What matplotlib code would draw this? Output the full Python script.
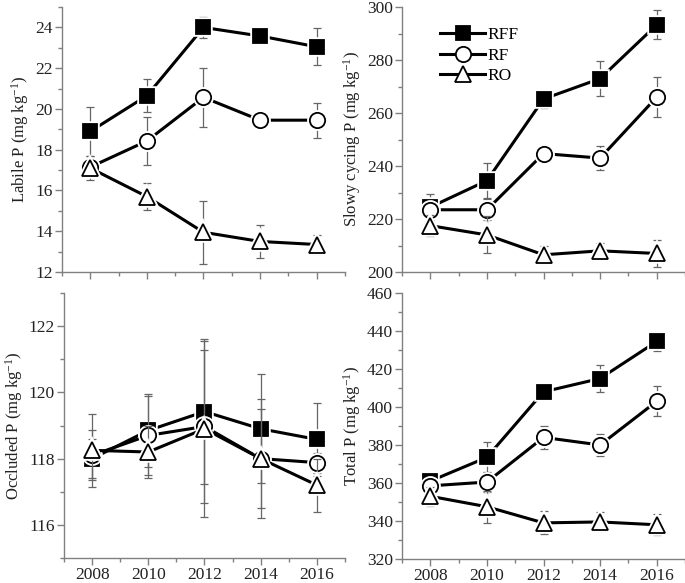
import matplotlib
matplotlib.use("Agg")
import matplotlib.pyplot as plt
from matplotlib.ticker import MultipleLocator

plt.rcParams["font.family"] = ["Liberation Serif", "DejaVu Serif"]
plt.rcParams["mathtext.fontset"] = "custom"
plt.rcParams["mathtext.rm"] = "Liberation Serif"
plt.rcParams["mathtext.it"] = "Liberation Serif:italic"

years = [2008, 2010, 2012, 2014, 2016]
series_names = ["RFF", "RF", "RO"]

labile_rff = [18.9, 20.65, 24.0, 23.58, 23.05]
labile_rff_err = [1.2, 0.8, 0.5, 0.3, 0.9]
labile_rf = [17.15, 18.43, 20.57, 19.45, 19.45]
labile_rf_err = [0.45, 1.2, 1.45, 0.3, 0.85]
labile_ro = [17.1, 15.7, 13.95, 13.5, 13.35]
labile_ro_err = [0.6, 0.68, 1.55, 0.8, 0.45]

slow_rff = [224.5, 234.5, 265.3, 273.0, 293.3]
slow_rff_err = [5.0, 6.5, 3.5, 6.5, 5.5]
slow_rf = [223.5, 223.5, 244.7, 243.0, 266.0]
slow_rf_err = [3.0, 4.0, 2.5, 4.4, 7.6]
slow_ro = [217.5, 214.0, 206.5, 208.0, 207.0]
slow_ro_err = [4.0, 7.0, 3.5, 3.0, 5.0]

occl_rff = [118.0, 118.85, 119.42, 118.9, 118.58]
occl_rff_err = [0.6, 1.1, 2.2, 1.65, 1.1]
occl_rf = [118.1, 118.7, 118.97, 118.0, 117.88]
occl_rf_err = [0.75, 1.2, 2.3, 1.8, 0.3]
occl_ro = [118.25, 118.2, 118.9, 118.0, 117.2]
occl_ro_err = [1.1, 0.8, 2.65, 1.5, 0.8]

total_rff = [361.0, 373.5, 408.0, 415.0, 434.5]
total_rff_err = [3.0, 8.0, 4.0, 7.0, 5.0]
total_rf = [358.5, 360.5, 384.0, 380.0, 403.0]
total_rf_err = [3.0, 5.5, 6.0, 5.7, 8.0]
total_ro = [353.0, 347.5, 339.0, 339.5, 338.0]
total_ro_err = [5.0, 8.5, 6.0, 5.0, 5.5]

# marker, markersize, face colour per series
estilos = {"RFF": ("s", 10, "black"), "RF": ("o", 11, "white"), "RO": ("^", 12, "white")}
cinza = "#808080"

fig = plt.figure(figsize=(6.85, 5.83), dpi=100)
ax_lab = fig.add_axes([0.0905, 0.5334, 0.4131, 0.4545])
ax_slo = fig.add_axes([0.5869, 0.5334, 0.4131, 0.4545])
ax_occ = fig.add_axes([0.0934, 0.0429, 0.4102, 0.4545])
ax_tot = fig.add_axes([0.5869, 0.0412, 0.4131, 0.4562])

paineis = [
    (ax_lab, [labile_rff, labile_rf, labile_ro], [labile_rff_err, labile_rf_err, labile_ro_err],
     (12, 25), 2, 1, "Labile P (mg kg$^{-1}$)"),
    (ax_slo, [slow_rff, slow_rf, slow_ro], [slow_rff_err, slow_rf_err, slow_ro_err],
     (200, 300), 20, 10, "Slowy cycing P (mg kg$^{-1}$)"),
    (ax_occ, [occl_rff, occl_rf, occl_ro], [occl_rff_err, occl_rf_err, occl_ro_err],
     (115, 123), 2, 1, "Occluded P (mg kg$^{-1}$)"),
    (ax_tot, [total_rff, total_rf, total_ro], [total_rff_err, total_rf_err, total_ro_err],
     (320, 460), 20, 10, "Total P (mg kg$^{-1}$)"),
]

for ax, valores, erros, ylim, major, minor, rotulo in paineis:
    for k, nome in enumerate(series_names):
        m, ms, fc = estilos[nome]
        z = 3 + k * 3
        ax.errorbar(years, valores[k], yerr=erros[k], fmt="none", ecolor="#666666",
                    elinewidth=0.9, capsize=3, capthick=0.9, zorder=z)
        ax.plot(years, valores[k], "-", color="black", lw=2.2, zorder=z + 0.5)
        ax.plot(years, valores[k], ls="none", marker=m, ms=ms, mfc="white", mec="white",
                mew=4, zorder=z + 1)
        ax.plot(years, valores[k], ls="none", marker=m, ms=ms, mfc=fc, mec="black",
                mew=1.3, zorder=z + 2)
    ax.set_xlim(2007, 2017)
    ax.set_ylim(*ylim)
    ax.set_xticks(years)
    ax.xaxis.set_minor_locator(MultipleLocator(1))
    ax.yaxis.set_major_locator(MultipleLocator(major))
    ax.yaxis.set_minor_locator(MultipleLocator(minor))
    for lado in ["top", "right"]:
        ax.spines[lado].set_visible(False)
    for lado in ["left", "bottom"]:
        ax.spines[lado].set_color(cinza)
        ax.spines[lado].set_linewidth(1.0)
    ax.tick_params(which="major", direction="out", length=5, width=1.0, color=cinza,
                   labelsize=12.5, labelcolor="#222222", pad=1.5)
    ax.tick_params(which="minor", direction="out", length=3, width=1.0, color=cinza)
    ax.set_ylabel(rotulo, fontsize=12, color="#222222", labelpad=3)

ax_lab.tick_params(axis="x", labelbottom=False)
ax_slo.tick_params(axis="x", labelbottom=False)

handles = []
for nome in series_names:
    m, ms, fc = estilos[nome]
    h, = ax_slo.plot([], [], "-", color="black", lw=2.2, marker=m, ms=ms, mfc=fc,
                     mec="black", mew=1.3, label=nome)
    handles.append(h)
ax_slo.legend(handles=handles, loc="upper left", bbox_to_anchor=(0.11, 0.95),
              frameon=False, fontsize=12.5, handlelength=2.6, handletextpad=0.1,
              labelspacing=0.25, borderaxespad=0)

fig.savefig("out.png", dpi=100)
